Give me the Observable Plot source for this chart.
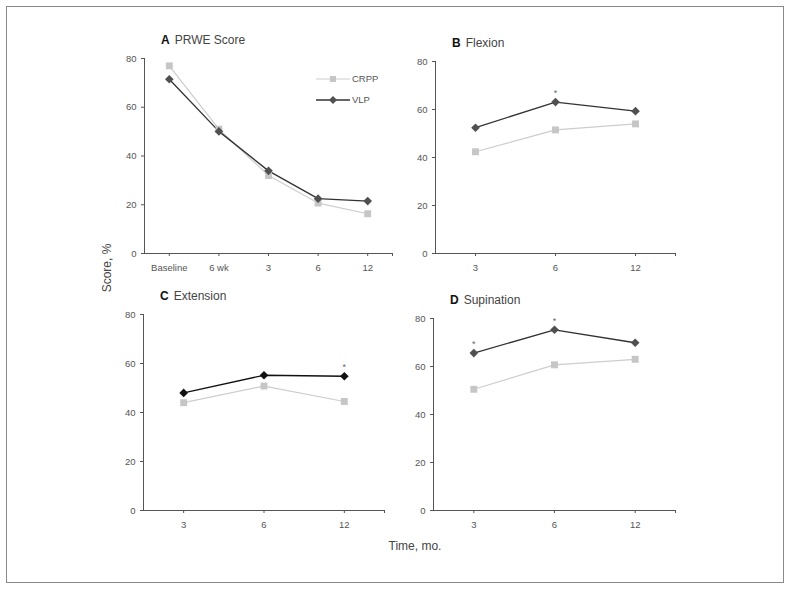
<!DOCTYPE html>
<html>
<head>
<meta charset="utf-8">
<script src="https://cdn.jsdelivr.net/npm/d3@7"></script>
<script src="https://cdn.jsdelivr.net/npm/@observablehq/plot@0.6"></script>
<style>
  body { margin: 0; background: #fff; font-family: "Liberation Sans", Arial, sans-serif; }
  #wrap { position: relative; width: 791px; height: 591px; }
  #frame { position: absolute; left: 6px; top: 6px; width: 776px; height: 575px; border: 1px solid #8a8a8a; }
  .panel { position: absolute; }
  .ptitle { position: absolute; font-size: 12px; color: #444; white-space: nowrap; }
  .ptitle b { color: #111; margin-right: 5px; }
  .lab { position: absolute; font-size: 12px; color: #444; white-space: nowrap; }
  svg text { font-family: "Liberation Sans", Arial, sans-serif; }
</style>
</head>
<body>
<div id="wrap">
  <div id="frame"></div>
</div>
<script>
// ---- data ----
const catsA = ["Baseline", "6 wk", "3", "6", "12"];
const crppA = [77.0, 51.0, 32.0, 20.7, 16.3];
const vlpA  = [71.5, 50.1, 33.9, 22.5, 21.5];

const catsMo = ["3", "6", "12"];
const crppB = [42.4, 51.5, 54.0];
const vlpB  = [52.4, 63.1, 59.3];
const crppC = [44.0, 50.8, 44.5];
const vlpC  = [48.0, 55.2, 54.8];
const crppD = [50.5, 60.7, 63.0];
const vlpD  = [65.6, 75.3, 69.9];

const starsA = [];
const starsB = ["6"];
const starsC = ["12"];
const starsD = ["3", "6"];

const yTicks = [0, 20, 40, 60, 80];
const seriesNames = ["CRPP", "VLP"];

const wrap = document.getElementById("wrap");

function panel({letter, title, cats, crpp, vlp, stars, vlpFill, vlpLine, left, top, innerW, innerH}) {
  const mL = 44, mT = 8, mR = 10, mB = 30;
  const rows = cats.map((c, i) => ({i, c, crpp: crpp[i], vlp: vlp[i]}));
  const n = cats.length;
  const xDom = [-0.5, n - 0.5];
  const yDom = [0, 80];
  const chart = Plot.plot({
    width: mL + innerW + mR,
    height: mT + innerH + mB,
    marginLeft: mL, marginTop: mT, marginRight: mR, marginBottom: mB,
    style: {background: "transparent", fontSize: "9.5px", color: "#555"},
    x: {domain: xDom},
    y: {domain: yDom},
    marks: [
      Plot.axisY({ticks: yTicks, tickSize: 3, tickPadding: 5, label: null, stroke: "#555", fill: "#555", fontSize: 9.5}),
      Plot.axisX({ticks: [...d3.range(n), n - 0.5], tickFormat: t => cats[t] ?? "", tickSize: 3, tickPadding: 8, label: null, stroke: "#555", fill: "#555", fontSize: 9.5}),
      Plot.ruleY([yDom[0]], {stroke: "#555", strokeWidth: 1}),
      Plot.ruleX([xDom[0]], {y1: yDom[0], y2: yDom[1], stroke: "#555", strokeWidth: 1}),
      Plot.line(rows, {x: "i", y: "crpp", stroke: "#cdcdcd", strokeWidth: 1.2}),
      Plot.line(rows, {x: "i", y: "vlp", stroke: vlpLine, strokeWidth: 1.3}),
      Plot.dot(rows, {x: "i", y: "crpp", symbol: "square", fill: "#c6c6c6", r: 3.9}),
      Plot.dot(rows, {x: "i", y: "vlp", symbol: "diamond2", fill: vlpFill, r: 3.9}),
      Plot.text(rows.filter(d => stars.includes(d.c)), {x: "i", y: "vlp", text: () => "*", dy: -9, fill: "#666", fontSize: 9})
    ]
  });
  chart.classList.add("panel");
  chart.style.left = (left - mL) + "px";
  chart.style.top = (top - mT) + "px";
  wrap.appendChild(chart);
  const t = document.createElement("div");
  t.className = "ptitle";
  t.innerHTML = `<b>${letter}</b>${title}`;
  t.style.left = (left + 17) + "px";
  t.style.top = (top - 25) + "px";
  wrap.appendChild(t);
}

panel({letter: "A", title: "PRWE Score", cats: catsA, crpp: crppA, vlp: vlpA, stars: starsA,
  vlpFill: "#505050", vlpLine: "#333", left: 144, top: 58, innerW: 248, innerH: 195});
panel({letter: "B", title: "Flexion", cats: catsMo, crpp: crppB, vlp: vlpB, stars: starsB,
  vlpFill: "#505050", vlpLine: "#333", left: 435, top: 61, innerW: 240, innerH: 192});
panel({letter: "C", title: "Extension", cats: catsMo, crpp: crppC, vlp: vlpC, stars: starsC,
  vlpFill: "#111", vlpLine: "#111", left: 143, top: 314, innerW: 241, innerH: 196});
panel({letter: "D", title: "Supination", cats: catsMo, crpp: crppD, vlp: vlpD, stars: starsD,
  vlpFill: "#505050", vlpLine: "#333", left: 433, top: 318, innerW: 242, innerH: 192});

// legend (panel A)
const ns = "http://www.w3.org/2000/svg";
const leg = document.createElementNS(ns, "svg");
leg.setAttribute("width", 80); leg.setAttribute("height", 40);
leg.style.position = "absolute"; leg.style.left = "314px"; leg.style.top = "69px";
const legStyles = [
  {line: "#cdcdcd", fill: "#c6c6c6", shape: "square"},
  {line: "#333", fill: "#505050", shape: "diamond"}
];
seriesNames.forEach((name, k) => {
  const y = 10 + k * 21, s = legStyles[k];
  const ln = document.createElementNS(ns, "line");
  ln.setAttribute("x1", 2); ln.setAttribute("x2", 36); ln.setAttribute("y1", y); ln.setAttribute("y2", y);
  ln.setAttribute("stroke", s.line); ln.setAttribute("stroke-width", k ? 1.3 : 1.2);
  leg.appendChild(ln);
  const m = document.createElementNS(ns, "path");
  const cx = 19;
  m.setAttribute("d", s.shape === "square"
    ? `M${cx-3},${y-3}h6v6h-6z`
    : `M${cx},${y-4}L${cx+4},${y}L${cx},${y+4}L${cx-4},${y}z`);
  m.setAttribute("fill", s.fill);
  leg.appendChild(m);
  const tx = document.createElementNS(ns, "text");
  tx.setAttribute("x", 38); tx.setAttribute("y", y); tx.setAttribute("dy", "0.35em");
  tx.setAttribute("font-size", "9.5"); tx.setAttribute("fill", "#555");
  tx.textContent = name;
  leg.appendChild(tx);
});
wrap.appendChild(leg);

// axis titles
const yl = document.createElement("div");
yl.className = "lab"; yl.textContent = "Score, %";
yl.style.left = "107px"; yl.style.top = "268px";
yl.style.transform = "translate(-50%, -50%) rotate(-90deg)";
wrap.appendChild(yl);
const xl = document.createElement("div");
xl.className = "lab"; xl.textContent = "Time, mo.";
xl.style.left = "415px"; xl.style.top = "546px";
xl.style.transform = "translate(-50%, -50%)";
wrap.appendChild(xl);
</script>
</body>
</html>
